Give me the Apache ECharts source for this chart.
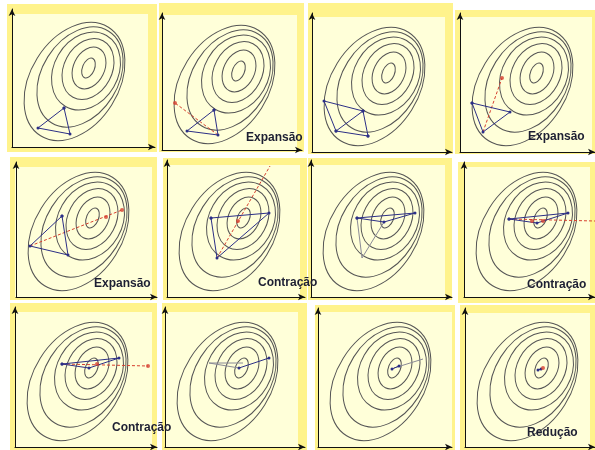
<!DOCTYPE html>
<html>
<head>
<meta charset="utf-8">
<script src="https://cdn.jsdelivr.net/npm/echarts@6/dist/echarts.min.js"></script>
<style>
  html, body { margin: 0; padding: 0; background: #ffffff; }
  #chart { width: 595px; height: 450px; }
</style>
</head>
<body>
<div id="chart"></div>
<script>
// Level curves of the objective (shared by every step): centre, semi-axes and tilt in degrees
const ringCenterX = [76.5, 77, 76, 74, 68, 62.5];
const ringCenterY = [79, 79, 78, 76, 70, 65.5];
const ringMajor   = [10.5, 22, 32, 41, 54, 64];
const ringMinor   = [6, 15.5, 24, 32, 38, 44];
const ringTilt    = [68, 64, 62, 60, 58, 58];

// Name of the move performed in each step
const stepLabels = ['', 'Expansão', '', 'Expansão', 'Expansão', 'Contração',
                    '', 'Contração', 'Contração', '', '', 'Redução'];

// Current simplex of each step (polylines through its vertices)
const simplexEdges = [
  [[[52, 39], [26, 19], [58, 13], [52, 39]]],
  [[[52, 40], [25, 19], [56, 15], [52, 40]]],
  [[[56, 16], [51, 41], [12, 51], [24, 21], [56, 16]], [[24, 21], [51, 41]]],
  [[[12, 49], [50, 40], [23, 20], [12, 49]]],
  [[[46, 81], [14, 51], [52, 42], [46, 81]]],
  [[[44, 79], [102, 84], [50, 39], [44, 79]]],
  [[[46, 79], [104, 84], [73, 75], [46, 79]]],
  [[[45, 78], [104, 84], [73, 74], [45, 78]]],
  [[[47, 83], [104, 89], [74, 79], [47, 83]]],
  [[[74, 79], [104, 89]]],
  [[[74, 78], [81, 81]]],
  [[[73, 77], [76, 78]]]
];

// Edges of the previous simplex still shown faintly
const previousEdges = [
  [], [], [], [], [], [],
  [[[46, 79], [51, 39], [73, 75]]],
  [], [],
  [[[44, 84], [74, 79]], [[44, 84], [78, 84]]],
  [[[76, 79], [105, 88]]],
  []
];

// Search direction through the centroid (from worst vertex to trial point)
const trialLines = [
  null, [[56, 15], [13, 47]], null, [[23, 20], [42, 74]],
  [[14, 51], [106, 87]], [[50, 39], [103, 131]], null, [[45, 78], [131, 76]],
  [[47, 83], [133, 81]], null, null, null
];

// Trial points evaluated along that direction
const trialPoints = [
  [], [[13, 47]], [], [[42, 74]],
  [[90, 80], [106, 87]], [[71, 76]], [], [[68, 76], [79, 76]],
  [[82, 83], [133, 81]], [], [], [[78, 79]]
];

// ---- layout of the 12 small frames (pixels) ----
// axis origin x, origin y, x-arrow end, y-arrow top
const frameAxes = [
  [12, 147, 155, 9], [162, 150, 302, 13], [312, 152, 452, 13], [460, 152, 595, 13],
  [16, 297, 157, 162], [167, 297, 305, 160], [311, 297, 452, 160], [464, 297, 595, 162],
  [15, 447, 157, 307], [165, 447, 305, 307], [318, 447, 452, 308], [465, 447, 595, 308]
];
// outer (x0,y0,x1,y1) and inner (x0,y0,x1,y1) panel boxes
const frameBoxes = [
  [7, 4, 157, 152, 12, 14, 148, 147],
  [159, 3, 304, 152, 162, 15, 297, 150],
  [308, 3, 453, 154, 312, 17, 445, 152],
  [455, 10, 595, 154, 460, 17, 592, 152],
  [10, 157, 157, 300, 15, 167, 152, 297],
  [163, 158, 307, 300, 167, 165, 300, 297],
  [308, 158, 452, 300, 311, 165, 445, 297],
  [458, 162, 595, 303, 464, 167, 590, 297],
  [10, 303, 157, 450, 15, 312, 152, 447],
  [162, 303, 307, 450, 165, 312, 298, 447],
  [315, 305, 455, 450, 318, 312, 452, 447],
  [460, 305, 595, 450, 465, 313, 590, 447]
];
// label anchor (left x, middle y)
const labelAnchors = [
  null, [246, 138], null, [528, 137],
  [94, 284], [258, 283], null, [527, 285],
  [112, 428], null, null, [527, 433]
];

const OUTER = '#fff38c';
const INNER = '#ffffd9';
const NAVY = '#2c2f86';
const RED = '#d6402f';
const CONTOUR = '#555555';

const ringData = ringCenterX.map((cx, i) => [cx, ringCenterY[i], ringMajor[i], ringMinor[i], ringTilt[i]]);

const grids = [], xAxes = [], yAxes = [], series = [], graphics = [];

frameBoxes.forEach((b) => {
  graphics.push({ type: 'rect', z: -10, silent: true,
    shape: { x: b[0], y: b[1], width: b[2] - b[0], height: b[3] - b[1] },
    style: { fill: OUTER } });
  graphics.push({ type: 'rect', z: -9, silent: true,
    shape: { x: b[4], y: b[5], width: b[6] - b[4], height: b[7] - b[5] },
    style: { fill: INNER } });
});

frameAxes.forEach((f, i) => {
  const [ox, oy, xe, yt] = f;
  grids.push({ left: ox, top: yt, width: xe - ox, height: oy - yt, containLabel: false });
  const axisCommon = {
    type: 'value', gridIndex: i, min: 0,
    axisLine: { show: true, onZero: false, symbol: ['none', 'arrow'], symbolSize: [5, 7],
      lineStyle: { color: '#111', width: 1 } },
    axisTick: { show: false }, axisLabel: { show: false }, splitLine: { show: false }
  };
  xAxes.push(Object.assign({}, axisCommon, { max: xe - ox }));
  yAxes.push(Object.assign({}, axisCommon, { max: oy - yt }));

  // level curves
  series.push({
    type: 'custom', xAxisIndex: i, yAxisIndex: i, z: 2, silent: true,
    data: ringData,
    renderItem: (params, api) => {
      const p = api.coord([api.value(0), api.value(1)]);
      const s = api.size([api.value(2), api.value(3)]);
      return {
        type: 'ellipse', x: p[0], y: p[1], rotation: api.value(4) * Math.PI / 180,
        shape: { cx: 0, cy: 0, rx: s[0], ry: s[1] },
        style: { fill: 'none', stroke: CONTOUR, lineWidth: 1 }
      };
    }
  });

  previousEdges[i].forEach((pl) => {
    series.push({ type: 'line', xAxisIndex: i, yAxisIndex: i, z: 3, silent: true,
      data: pl, showSymbol: false, lineStyle: { color: '#8a8a96', width: 1 } });
  });

  if (trialLines[i]) {
    series.push({ type: 'line', xAxisIndex: i, yAxisIndex: i, z: 4, silent: true,
      data: trialLines[i], showSymbol: false,
      lineStyle: { color: RED, width: 1, type: [3, 2] } });
  }

  simplexEdges[i].forEach((pl) => {
    series.push({ type: 'line', xAxisIndex: i, yAxisIndex: i, z: 5, silent: true,
      data: pl, symbol: 'circle', symbolSize: 3, showSymbol: true,
      itemStyle: { color: NAVY }, lineStyle: { color: NAVY, width: 1 } });
  });

  if (trialPoints[i].length) {
    series.push({ type: 'scatter', xAxisIndex: i, yAxisIndex: i, z: 6, silent: true,
      data: trialPoints[i], symbolSize: 4, itemStyle: { color: RED } });
  }

  if (stepLabels[i]) {
    const a = labelAnchors[i];
    graphics.push({ type: 'text', z: 100, silent: true, x: a[0], y: a[1],
      style: { text: stepLabels[i], fill: '#1d1f33', font: 'bold 12px "Liberation Sans", Arial, sans-serif',
        textVerticalAlign: 'middle', verticalAlign: 'middle' } });
  }
});

const chart = echarts.init(document.getElementById('chart'), null, { renderer: 'canvas' });
chart.setOption({
  animation: false,
  backgroundColor: '#ffffff',
  grid: grids, xAxis: xAxes, yAxis: yAxes, series: series,
  graphic: { elements: graphics }
});
</script>
</body>
</html>
